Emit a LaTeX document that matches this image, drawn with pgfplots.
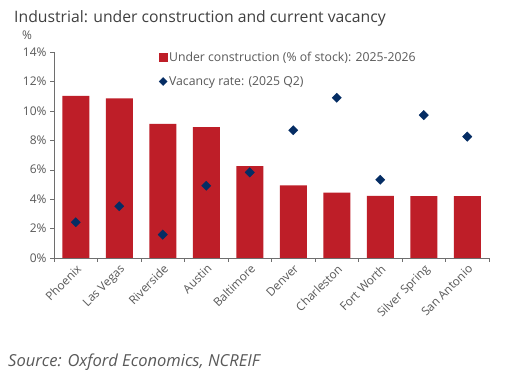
\documentclass[border=0pt]{standalone}
\usepackage{pgfplots}
\pgfplotsset{compat=1.18}
\usepackage{fontspec}
\setmainfont{Open Sans}
\definecolor{barred}{RGB}{190,30,40}
\definecolor{navy}{RGB}{5,45,100}
\definecolor{txt}{RGB}{89,89,89}
\definecolor{axl}{RGB}{110,110,110}
\begin{document}
\begin{tikzpicture}
\path[use as bounding box,fill=white] (0,0) rectangle (507bp,380bp);
\begin{axis}[
  at={(54bp,122bp)}, anchor=south west,
  scale only axis, width=435bp, height=206bp,
  xmin=-0.5, xmax=9.5, ymin=0, ymax=14,
  axis x line*=bottom, axis y line*=left,
  axis line style={axl},
  xtick={0,...,9},
  xticklabels={Phoenix,Las Vegas,Riverside,Austin,Baltimore,Denver,Charleston,Fort Worth,Silver Spring,San Antonio},
  x tick label style={rotate=45, anchor=north east, inner sep=1pt, font=\fontsize{11.8}{13}\selectfont, text=txt},
  major x tick style={draw=none},
  minor xtick={-0.5,0.5,...,9.5},
  minor x tick style={axl},
  ytick={0,2,...,14},
  yticklabels={0\%,2\%,4\%,6\%,8\%,10\%,12\%,14\%},
  y tick label style={font=\fontsize{12}{13}\selectfont, text=txt},
  y tick style={axl},
  tick align=outside,
  major tick length=4bp, minor tick length=4bp,
  legend style={at={(0.24,1.006)}, anchor=north west, draw=none, fill=none,
    font=\fontsize{12.3}{14}\selectfont, text=txt, row sep=10bp, inner sep=0pt,
    nodes={inner sep=1.5pt}},
  legend cell align=left,
  clip=false,
]
\addplot[ybar, bar width=27bp, fill=barred, draw=none,
  legend image code/.code={\fill[barred] (0bp,-4.5bp) rectangle (9bp,4.5bp);}] coordinates {
(0,11.02) (1,10.85) (2,9.11) (3,8.89) (4,6.24) (5,4.93) (6,4.45) (7,4.23) (8,4.2) (9,4.2)};
\addlegendentry{Under construction (\% of stock): 2025-2026}
\addplot[only marks, mark=square*, mark size=3.3bp, mark options={rotate=45, fill=navy, draw=navy},
  legend image code/.code={\fill[navy] (4.5bp,0bp) -- (8.5bp,0bp) -- (4.5bp,4bp) -- (0.5bp,0bp) -- (4.5bp,-4bp) -- (8.5bp,0bp);}] coordinates {
(0,2.43) (1,3.52) (2,1.59) (3,4.91) (4,5.82) (5,8.68) (6,10.89) (7,5.32) (8,9.71) (9,8.25)};
\addlegendentry{Vacancy rate: (2025 Q2)}
\end{axis}
\node[anchor=west, inner sep=0pt, text=black!75, font=\fontsize{15.8}{18}\selectfont] at (14bp,362bp) {Industrial: under construction and current vacancy};
\node[anchor=center, inner sep=0pt, text=txt, font=\fontsize{12}{13}\selectfont] at (27bp,345bp) {\%};
\node[anchor=west, inner sep=0pt, text=txt, font=\itshape\fontsize{16.6}{19}\selectfont] at (8bp,18bp) {Source: Oxford Economics, NCREIF};
\end{tikzpicture}
\end{document}
